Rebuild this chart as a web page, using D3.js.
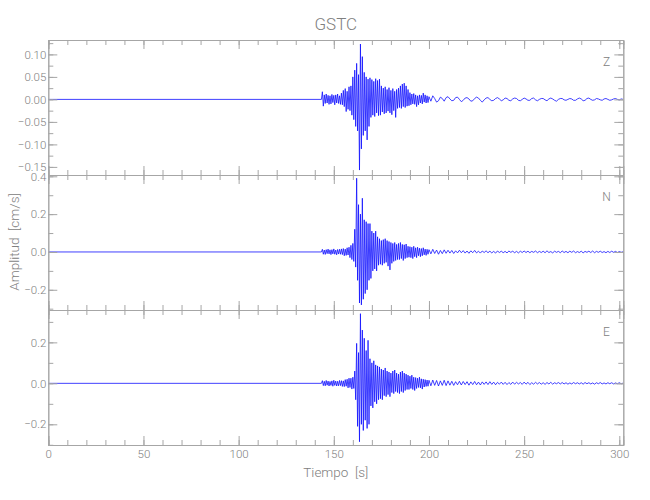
<!DOCTYPE html>
<html><head><meta charset="utf-8">
<script src="https://cdn.jsdelivr.net/npm/d3@7"></script>
<style>
body{margin:0;background:#fff;}
text{font-family:Roboto,"DejaVu Sans Condensed",sans-serif;font-weight:300;fill:#808080;}
</style></head>
<body><svg id="c" width="650" height="500"></svg>
<script>
// ---- data (cm/s) ----
const title = "GSTC";
const components = ["Z", "N", "E"];
const xTickLabels = [0, 50, 100, 150, 200, 250, 300];
const zTickLabels = [0.10, 0.05, 0.00, -0.05, -0.10, -0.15];
const nTickLabels = [0.4, 0.2, 0.0, -0.2];
const eTickLabels = [0.2, 0.0, -0.2];
const preTimes = [0, 143.5];
const preValues = [0, 0];
const burstStart = 144, burstStep = 0.5;   // s
const codaStart = 200, codaStep = 1;       // s

const zBurst = [
 0.017,-0.015,0.010,-0.009,0.012,-0.008,0.009,-0.011,0.008,-0.010,
 0.011,-0.007,0.009,-0.012,0.010,-0.008,0.012,-0.009,0.008,-0.011,
 0.014,-0.012,0.020,-0.016,0.024,-0.027,0.018,-0.022,0.028,-0.025,
 0.030,-0.035,0.050,-0.045,0.065,-0.060,0.080,-0.070,0.055,-0.157,
 0.123,-0.110,0.095,-0.080,0.060,-0.070,0.050,-0.090,0.045,-0.060,
 0.048,-0.040,0.044,-0.035,0.040,-0.038,0.046,-0.030,0.042,-0.036,
 0.045,-0.035,0.030,-0.028,0.025,-0.032,0.028,-0.030,0.022,-0.026,
 0.026,-0.030,0.020,-0.034,0.024,-0.025,0.018,-0.040,0.022,-0.020,
 0.025,-0.018,0.030,-0.020,0.034,-0.016,0.036,-0.018,0.030,-0.015,
 0.022,-0.014,0.015,-0.012,0.012,-0.010,0.013,-0.011,0.010,-0.016,
 0.008,-0.012,0.010,-0.008,0.009,-0.010,0.014,-0.006,0.010,-0.008,
 0.008,-0.007];
const zCoda = [
 0.006,-0.004,0.008,0.002,-0.006,-0.003,0.005,0.002,-0.004,0.004,
 0.006,0.001,-0.003,-0.002,0.004,0.005,0.000,-0.005,-0.002,0.003,
 0.004,0.001,-0.004,-0.003,0.002,0.005,0.003,-0.002,-0.006,-0.001,
 0.003,0.004,0.000,-0.003,-0.002,0.002,0.004,0.001,-0.003,-0.001,
 0.003,0.002,-0.002,-0.003,0.001,0.003,0.002,-0.002,-0.003,0.000,
 0.003,0.001,-0.002,-0.002,0.002,0.003,-0.001,-0.003,0.000,0.002,
 0.002,-0.001,-0.003,0.001,0.003,0.001,-0.002,-0.004,0.000,0.002,
 0.002,-0.001,-0.002,0.000,0.002,0.001,-0.002,-0.002,0.001,0.003,
 0.001,-0.003,-0.002,0.002,0.003,0.000,-0.002,-0.001,0.002,0.001,
 -0.001,-0.002,0.001,0.002,0.000,-0.002,-0.001,0.001,0.002,0.000,
 -0.001,0.001,0.000];

const nBurst = [
 0.014,-0.012,0.010,-0.013,0.012,-0.009,0.015,-0.010,0.011,-0.014,
 0.012,-0.010,0.016,-0.012,0.010,-0.015,0.013,-0.011,0.014,-0.012,
 0.016,-0.014,0.018,-0.020,0.015,-0.018,0.022,-0.016,0.025,-0.030,
 0.035,-0.040,0.045,-0.050,0.120,-0.080,0.390,-0.150,0.250,-0.270,
 0.200,-0.280,0.284,-0.250,0.170,-0.220,0.160,-0.200,0.150,-0.150,
 0.150,-0.140,0.110,-0.100,0.100,-0.090,0.110,-0.100,0.080,-0.070,
 0.070,-0.065,0.060,-0.070,0.065,-0.060,0.070,-0.055,0.060,-0.075,
 0.055,-0.095,0.050,-0.060,0.045,-0.050,0.050,-0.045,0.040,-0.040,
 0.045,-0.040,0.050,-0.035,0.040,-0.045,0.038,-0.035,0.042,-0.030,
 0.030,-0.028,0.028,-0.030,0.025,-0.035,0.030,-0.025,0.022,-0.030,
 0.025,-0.020,0.020,-0.025,0.018,-0.020,0.022,-0.015,0.015,-0.018,
 0.014,-0.012];
const nCoda = [
 0.012,-0.010,0.014,-0.008,0.010,-0.012,0.008,-0.009,0.011,-0.007,
 0.009,-0.006,0.008,-0.008,0.006,-0.005,0.009,-0.004,0.007,-0.006,
 0.005,-0.007,0.006,-0.004,0.008,-0.005,0.004,-0.006,0.005,-0.003,
 0.006,-0.004,0.004,-0.005,0.003,-0.006,0.005,-0.003,0.004,-0.004,
 0.003,-0.005,0.005,-0.002,0.004,-0.004,0.003,-0.005,0.004,-0.003,
 0.005,-0.003,0.004,-0.004,0.003,-0.002,0.005,-0.004,0.003,-0.003,
 0.004,-0.004,0.006,-0.003,0.002,-0.005,0.004,-0.002,0.003,-0.004,
 0.005,-0.003,0.003,-0.004,0.004,-0.002,0.005,-0.004,0.002,-0.003,
 0.004,-0.005,0.003,-0.002,0.004,-0.003,0.005,-0.004,0.003,-0.002,
 0.004,-0.003,0.002,-0.004,0.003,-0.003,0.004,-0.002,0.003,-0.003,
 0.002,-0.002,0.001];

const eBurst = [
 0.013,-0.011,0.010,-0.012,0.014,-0.009,0.011,-0.013,0.009,-0.010,
 0.012,-0.014,0.015,-0.010,0.011,-0.013,0.010,-0.012,0.014,-0.011,
 0.013,-0.015,0.012,-0.016,0.018,-0.014,0.020,-0.022,0.025,-0.020,
 0.025,-0.028,0.030,-0.025,0.060,-0.080,0.195,-0.210,0.150,-0.285,
 0.340,-0.200,0.260,-0.230,0.220,-0.180,0.160,-0.220,0.210,-0.200,
 0.120,-0.110,0.100,-0.120,0.110,-0.090,0.090,-0.100,0.085,-0.080,
 0.080,-0.075,0.070,-0.080,0.065,-0.060,0.075,-0.065,0.060,-0.055,
 0.055,-0.065,0.050,-0.045,0.060,-0.050,0.065,-0.040,0.050,-0.045,
 0.045,-0.050,0.055,-0.040,0.060,-0.045,0.050,-0.035,0.045,-0.030,
 0.040,-0.030,0.035,-0.025,0.040,-0.030,0.030,-0.035,0.028,-0.025,
 0.025,-0.020,0.030,-0.022,0.022,-0.028,0.020,-0.018,0.018,-0.015,
 0.016,-0.014];
const eCoda = [
 0.015,-0.012,0.016,-0.010,0.014,-0.013,0.012,-0.010,0.015,-0.011,
 0.012,-0.009,0.010,-0.010,0.008,-0.007,0.010,-0.008,0.009,-0.006,
 0.008,-0.009,0.007,-0.006,0.009,-0.007,0.006,-0.008,0.007,-0.005,
 0.007,-0.006,0.008,-0.005,0.006,-0.007,0.005,-0.004,0.006,-0.005,
 0.005,-0.006,0.004,-0.005,0.006,-0.004,0.005,-0.003,0.004,-0.005,
 0.006,-0.004,0.005,-0.006,0.003,-0.004,0.005,-0.003,0.004,-0.004,
 0.003,-0.005,0.004,-0.003,0.005,-0.004,0.003,-0.002,0.004,-0.003,
 0.004,-0.003,0.003,-0.004,0.002,-0.003,0.004,-0.002,0.003,-0.003,
 0.003,-0.004,0.004,-0.002,0.003,-0.003,0.002,-0.004,0.003,-0.002,
 0.004,-0.003,0.002,-0.003,0.003,-0.002,0.003,-0.003,0.002,-0.002,
 0.003,-0.002,0.001];

// ---- layout ----
const svg = d3.select("#c");
const L = 48.3, R = 623.3;
const panelTops = [40, 175, 310];
const panelH = 135;
const yDomains = [[-0.168, 0.132], [-0.307, 0.407], [-0.301, 0.358]];
const minorSteps = [0.025, 0.1, 0.1];
const yLabels = [zTickLabels, nTickLabels, eTickLabels];
const yFormats = [d3.format(".2f"), d3.format(".1f"), d3.format(".1f")];
const bursts = [zBurst, nBurst, eBurst];
const codas = [zCoda, nCoda, eCoda];

const x = d3.scaleLinear().domain([0, 302.1]).range([L, R]);
const xMajor = xTickLabels;
const xMinor = d3.range(0, 301, 10);
const axisColor = "#a6a6a6";
const FONT = 'Roboto,"DejaVu Sans Condensed",sans-serif';

function series(burst, coda) {
  const pts = preTimes.map((t, i) => [t, preValues[i]]);
  burst.forEach((v, i) => pts.push([burstStart + i * burstStep, v]));
  coda.forEach((v, i) => pts.push([codaStart + i * codaStep, v]));
  return pts;
}

function styleAxis(g) {
  g.select(".domain").attr("stroke", axisColor);
  g.selectAll(".tick line").attr("stroke", axisColor);
  g.selectAll(".tick text").attr("fill", "#808080").style("font-size", "11.5px")
    .style("font-family", FONT).style("font-weight", 300);
}

components.forEach((comp, p) => {
  const top = panelTops[p], bot = top + panelH;
  const y = d3.scaleLinear().domain(yDomains[p]).range([bot, top]);
  const ticksMajor = yLabels[p];
  const ticksMinor = d3.range(-0.3, 0.41, minorSteps[p]).map(v => +v.toFixed(3))
    .filter(v => v >= yDomains[p][0] && v <= yDomains[p][1]);

  const clipId = "clip" + p;
  svg.append("clipPath").attr("id", clipId).append("rect")
    .attr("x", L).attr("y", top - 6).attr("width", R - L).attr("height", panelH + 12);

  const line = d3.line().x(d => x(d[0])).y(d => y(d[1]));
  svg.append("path").datum(series(bursts[p], codas[p]))
    .attr("clip-path", `url(#${clipId})`)
    .attr("d", line).attr("fill", "none")
    .attr("stroke", "#1010ff").attr("stroke-width", 0.8);

  const gl = svg.append("g").attr("transform", `translate(${L},0)`)
    .call(d3.axisLeft(y).tickValues(ticksMajor).tickFormat(d => yFormats[p](d).replace("-", "\u2212")).tickSize(-9).tickPadding(2));
  styleAxis(gl);
  const glm = svg.append("g").attr("transform", `translate(${L},0)`)
    .call(d3.axisLeft(y).tickValues(ticksMinor).tickFormat("").tickSize(-5));
  styleAxis(glm);
  const gr = svg.append("g").attr("transform", `translate(${R},0)`)
    .call(d3.axisRight(y).tickValues(ticksMajor).tickFormat("").tickSize(-9));
  styleAxis(gr);
  const grm = svg.append("g").attr("transform", `translate(${R},0)`)
    .call(d3.axisRight(y).tickValues(ticksMinor).tickFormat("").tickSize(-5));
  styleAxis(grm);

  const gt = svg.append("g").attr("transform", `translate(0,${top})`)
    .call(d3.axisTop(x).tickValues(xMajor).tickFormat("").tickSize(-9));
  styleAxis(gt);
  const gtm = svg.append("g").attr("transform", `translate(0,${top})`)
    .call(d3.axisTop(x).tickValues(xMinor).tickFormat("").tickSize(-5));
  styleAxis(gtm);
  const gb = svg.append("g").attr("transform", `translate(0,${bot})`)
    .call(d3.axisBottom(x).tickValues(xMajor)
      .tickFormat(p === 2 ? d3.format("d") : "").tickSize(-9).tickPadding(5));
  styleAxis(gb);
  const gbm = svg.append("g").attr("transform", `translate(0,${bot})`)
    .call(d3.axisBottom(x).tickValues(xMinor).tickFormat("").tickSize(-5));
  styleAxis(gbm);

  svg.append("text").attr("x", 606.5).attr("y", top + 26)
    .attr("text-anchor", "middle").style("font-size", "12px").text(comp);
});

svg.append("text").attr("x", (L + R) / 2).attr("y", 30)
  .attr("text-anchor", "middle").style("font-size", "17px").text(title);
svg.append("text").attr("x", (L + R) / 2).attr("y", 477)
  .attr("text-anchor", "middle").style("font-size", "13.5px").attr("xml:space", "preserve").text("Tiempo  [s]");
svg.append("text").attr("transform", "translate(19,242) rotate(-90)")
  .attr("text-anchor", "middle").style("font-size", "13.5px").attr("xml:space", "preserve").text("Amplitud  [cm/s]");
</script></body></html>
